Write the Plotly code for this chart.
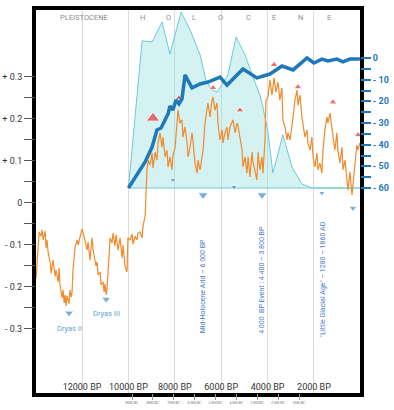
import plotly.graph_objects as go

# ---------------- data ----------------
# Orange temperature anomaly series (years BP, anomaly)
temp_bp = [13980, 13900, 13850, 13770, 13720, 13680, 13590, 13550, 13510, 13460,
           13380, 13330, 13250, 13160, 13120, 13030, 12990, 12950, 12860, 12820,
           12770, 12730, 12690, 12650, 12560, 12520, 12470, 12430, 12390, 12300,
           12210, 12170, 12090, 12000, 11960, 11870, 11830, 11780, 11740, 11650,
           11610, 11570, 11520, 11440, 11400, 11350, 11310, 11220, 11180, 11090,
           11050, 11010, 10960, 10920, 10880, 10830, 10790, 10710, 10660, 10580,
           10530, 10450, 10360, 10270, 10230, 10150, 10060, 10020, 9930, 9840,
           9800, 9710, 9630, 9590, 9500, 9410, 9370, 9280, 9240, 9200, 9150,
           9070, 8980, 8940, 8850, 8770, 8720, 8640, 8550, 8510, 8420,
           8340, 8290, 8210, 8120, 8080, 7990, 7900, 7860, 7780, 7690,
           7650, 7560, 7470, 7430, 7340, 7260, 7220, 7130, 7040, 7000,
           6910, 6830, 6780, 6700, 6610, 6570, 6480, 6400, 6350, 6270,
           6180, 6140, 6050, 5960, 5920, 5840, 5750, 5710, 5620, 5490,
           5400, 5320, 5280, 5190, 5100, 5060, 4970, 4890, 4840, 4760,
           4670, 4630, 4540, 4460, 4410, 4330, 4240, 4200, 4110, 4070,
           3980, 3900, 3810, 3720, 3640, 3550, 3470, 3380, 3340, 3250,
           3160, 3120, 3030, 2950, 2900, 2820, 2730, 2690, 2600, 2520,
           2470, 2390, 2300, 2260, 2170, 2090, 2040, 1960, 1870, 1830,
           1740, 1660, 1610, 1530, 1440, 1400, 1310, 1220, 1180, 1100,
           1010, 970, 880, 790, 750, 660, 580, 530, 450, 360,
           320, 230, 150, 100, 20]
temp_val = [-0.179, -0.100, -0.069, -0.079, -0.064, -0.088, -0.067, -0.107, -0.088, -0.119,
            -0.140, -0.167, -0.136, -0.174, -0.160, -0.188, -0.155, -0.195, -0.226, -0.207,
            -0.238, -0.219, -0.245, -0.221, -0.240, -0.207, -0.224, -0.212, -0.160, -0.105,
            -0.088, -0.100, -0.081, -0.062, -0.069, -0.088, -0.098, -0.112, -0.093, -0.136,
            -0.107, -0.083, -0.112, -0.136, -0.150, -0.140, -0.171, -0.164, -0.195, -0.188,
            -0.212, -0.193, -0.219, -0.202, -0.160, -0.124, -0.083, -0.095, -0.071, -0.102,
            -0.076, -0.112, -0.083, -0.131, -0.100, -0.150, -0.164, -0.083, -0.088, -0.074,
            -0.098, -0.079, -0.088, -0.071, -0.069, -0.083, -0.055, -0.031, 0.031, 0.079, 0.102,
            0.090, 0.119, 0.083, 0.121, 0.102, 0.143, 0.167, 0.133, 0.157, 0.110,
            0.126, 0.086, 0.110, 0.079, 0.114, 0.131, 0.205, 0.221, 0.190, 0.198,
            0.157, 0.181, 0.143, 0.110, 0.133, 0.167, 0.150, 0.095, 0.071, 0.102,
            0.079, 0.110, 0.126, 0.190, 0.229, 0.238, 0.205, 0.245, 0.252, 0.221,
            0.238, 0.190, 0.150, 0.174, 0.143, 0.167, 0.181, 0.150, 0.181, 0.198,
            0.167, 0.190, 0.186, 0.157, 0.126, 0.086, 0.110, 0.071, 0.110, 0.062,
            0.121, 0.098, 0.071, 0.055, 0.121, 0.079, 0.110, 0.071, 0.150, 0.245,
            0.252, 0.293, 0.257, 0.298, 0.264, 0.288, 0.245, 0.274, 0.198, 0.181,
            0.150, 0.167, 0.150, 0.181, 0.205, 0.245, 0.269, 0.233, 0.257, 0.205,
            0.190, 0.157, 0.174, 0.143, 0.126, 0.157, 0.110, 0.086, 0.119, 0.079,
            0.095, 0.071, 0.126, 0.174, 0.205, 0.190, 0.214, 0.181, 0.157, 0.126,
            0.167, 0.126, 0.095, 0.133, 0.079, 0.102, 0.055, 0.031, 0.074, 0.019,
            0.043, 0.102, 0.138, 0.126, 0.143]

# Cyan filled profile (right-axis units)
cyan_bp = [10000, 9410, 8980, 8550, 8210, 7730, 7340, 6910, 6660, 6400, 6180, 5710,
           5360, 4970, 4630, 4330, 4200, 3980, 3770, 3340, 2950, 2520, 2090, 0]
cyan_val = [-60, 7.9, 7.4, 16.6, 1.8, 21.2, 12.9, 1.4, -10.2, -14.8, -15.7, -7.8,
            9.7, 1.4, -8.8, -17.1, -22.6, -34.6, -53.1, -35.5, -50.3, -58.1, -60, -60]

# Thick blue curve (right-axis units)
blue_bp = [10000, 9280, 8980, 8770, 8590, 8420, 8290, 8210, 8080, 7950, 7820, 7690,
           7560, 7260, 6910, 6570, 6050, 5750, 5060, 4460, 3900, 3380, 2900, 2300,
           2000, 1660, 1400, 1010, 750, 450, 20]
blue_val = [-60, -48.0, -41.1, -33.2, -32.3, -28.6, -25.8, -22.2, -24.0, -19.4, -21.2, -18.9,
            -7.8, -13.8, -12.0, -11.1, -8.8, -12.5, -5.1, -9.2, -7.4, -3.7, -5.5, 0,
            -2.3, -0.5, -1.4, -0.5, -1.8, -0.5, -0.5]

# Red warm-event arrows
red_bp = [8940, 7820, 6350, 5190, 3720, 2690, 1180, 100]
red_val = [0.202, 0.250, 0.274, 0.221, 0.329, 0.276, 0.240, 0.162]

# Blue cold-event arrows
cold_bp = [8080, 6780, 5450, 4240, 1660, 320, 12560, 10960]
cold_val = [0.055, 0.019, 0.038, 0.019, 0.024, -0.012, -0.262, -0.229]

# Axis ticks
left_ticks = [0.3, 0.25, 0.2, 0.15, 0.1, 0.05, 0, -0.05, -0.1, -0.15, -0.2, -0.25, -0.3]
left_labels = ["+ 0.3", "", "+ 0.2", "", "+ 0.1", "", "0", "", "- 0.1", "", "- 0.2", "", "- 0.3"]
right_ticks = [0, -5, -10, -15, -20, -25, -30, -35, -40, -45, -50, -55, -60]
right_labels = ["0", "", "- 10", "", "- 20", "", "- 30", "", "- 40", "", "- 50", "", "- 60"]
bp_ticks = [12000, 10000, 8000, 6000, 4000, 2000]
bp_labels = ["12000 BP", "10000 BP", "8000 BP", "6000 BP", "4000 BP", "2000 BP"]
bc_ticks = [-9000, -8000, -7000, -6000, -5000, -4000, -3000, -2000, -1000]
bc_labels = ["9000 BC", "8000 BC", "7000 BC", "6 000 BC", "5 000 BC", "4 000 BC",
             "3 000 BC", "2 000 BC", "1000 BC"]

holocene_letters = ["H", "O", "L", "O", "C", "E", "N", "E"]
holocene_bp = [9410, 8290, 7170, 6010, 4840, 3720, 2560, 1350]

events = ["Mid-Holocene Arid – 6 000 BP",
          "4 000  BP Event : 4 400 – 3 800 BP",
          "\"Little Glacial Age\" – 1280 – 1860 AD"]
events_bp = [6780, 4240, 1610]
events_val = [-0.198, -0.183, -0.181]

dryas = ["Dryas II", "Dryas III"]
dryas_bp = [12560, 10960]
dryas_val = [-0.300, -0.264]

# ---------------- figure ----------------
ORANGE = "#f28a2a"
BLUE = "#1f78b8"
CYAN_LINE = "#6ccad8"
ARROW_BLUE = "#3d8fcc"
TEXT_BLUE = "#4a7bd2"

fig = go.Figure()

fig.add_trace(go.Scatter(
    x=cyan_bp + [cyan_bp[0]], y=cyan_val + [cyan_val[0]],
    xaxis="x", yaxis="y", mode="lines", fill="toself",
    fillcolor="rgba(150,222,226,0.40)", line=dict(color=CYAN_LINE, width=1),
    hoverinfo="skip", showlegend=False))

fig.add_trace(go.Scatter(
    x=temp_bp, y=temp_val, xaxis="x", yaxis="y2", mode="lines",
    line=dict(color=ORANGE, width=1.2), showlegend=False))

fig.add_trace(go.Scatter(
    x=red_bp, y=red_val, xaxis="x", yaxis="y2", mode="markers",
    marker=dict(symbol="triangle-up", color="#e8303a",
                size=[12, 7, 7, 7, 7, 7, 7, 7]),
    showlegend=False))

fig.add_trace(go.Scatter(
    x=cold_bp, y=cold_val, xaxis="x", yaxis="y2", mode="markers",
    marker=dict(symbol="triangle-down", color=ARROW_BLUE,
                size=[6, 9, 6, 9, 6, 7, 8, 8]),
    showlegend=False))

fig.add_trace(go.Scatter(
    x=blue_bp, y=blue_val, xaxis="x", yaxis="y3", mode="lines",
    line=dict(color=BLUE, width=3.5), showlegend=False))

# dummy trace so the BC axis is drawn
fig.add_trace(go.Scatter(
    x=bc_ticks, y=[None] * len(bc_ticks), xaxis="x2", yaxis="y2",
    mode="markers", showlegend=False, hoverinfo="skip"))

annotations = []
annotations.append(dict(x=11900, y=0.442, xref="x", yref="y2", text="PLEISTOCENE",
                        showarrow=False, font=dict(family="Roboto", size=7.5, color="#8c8c8c")))
for letter, bp in zip(holocene_letters, holocene_bp):
    annotations.append(dict(x=bp, y=0.442, xref="x", yref="y2", text=letter,
                            showarrow=False, font=dict(family="Roboto", size=7.5, color="#8c8c8c")))
for txt, bp, v in zip(events, events_bp, events_val):
    annotations.append(dict(x=bp, y=v, xref="x", yref="y2", text=txt, textangle=-90,
                            showarrow=False,
                            font=dict(family="Liberation Sans Narrow, Roboto, Liberation Sans",
                                      size=7, color=TEXT_BLUE)))
for txt, bp, v in zip(dryas, dryas_bp, dryas_val):
    annotations.append(dict(x=bp, y=v, xref="x", yref="y2", text=txt, showarrow=False,
                            font=dict(family="Liberation Sans Narrow, Roboto", size=7.5,
                                      color="#5aa3d4")))

fig.update_layout(
    width=394, height=410,
    margin=dict(l=36, r=34, t=10, b=17, autoexpand=False),
    paper_bgcolor="white", plot_bgcolor="white",
    showlegend=False,
    xaxis=dict(range=[13985, 15], tickvals=bp_ticks, ticktext=bp_labels,
               ticklabelposition="inside", ticks="", showgrid=True,
               gridcolor="#dcdcdc", gridwidth=1, zeroline=False, automargin=False,
               showline=True, mirror=True, linecolor="black", linewidth=3.5,
               tickfont=dict(family="Roboto", size=9, color="#333333")),
    xaxis2=dict(range=[-13599, 1922], overlaying="x", anchor="y", side="bottom",
                tickvals=bc_ticks, ticktext=bc_labels, ticks="outside", ticklen=6,
                tickcolor="#999999", tickwidth=0.8, showgrid=False, zeroline=False,
                showline=False, automargin=False,
                tickfont=dict(family="Liberation Serif", size=3.6, color="#555555")),
    yaxis=dict(range=[-154.6, 22.15], showticklabels=False, ticks="", showgrid=False,
               zeroline=False, showline=True, mirror=True, linecolor="black",
               linewidth=3.5, automargin=False),
    yaxis2=dict(range=[-0.4524, 0.4595], overlaying="y", anchor="x", side="left",
                tickvals=left_ticks, ticktext=left_labels, ticks="outside", ticklen=11,
                tickcolor="#555555", tickwidth=1, showgrid=False, zeroline=False,
                showline=False, automargin=False,
                tickfont=dict(family="Roboto", size=9, color="#333333")),
    yaxis3=dict(range=[-154.6, 22.15], overlaying="y", anchor="x", side="right",
                tickvals=right_ticks, ticktext=right_labels, ticks="outside", ticklen=10,
                tickcolor=BLUE, tickwidth=1.5, showgrid=False, zeroline=False,
                showline=False, automargin=False,
                tickfont=dict(family="Roboto", size=9, color=BLUE, weight="bold")),
    annotations=annotations,
)

fig.write_html("out.html", config={"displayModeBar": False},
               post_script="document.body.style.margin='0';")
